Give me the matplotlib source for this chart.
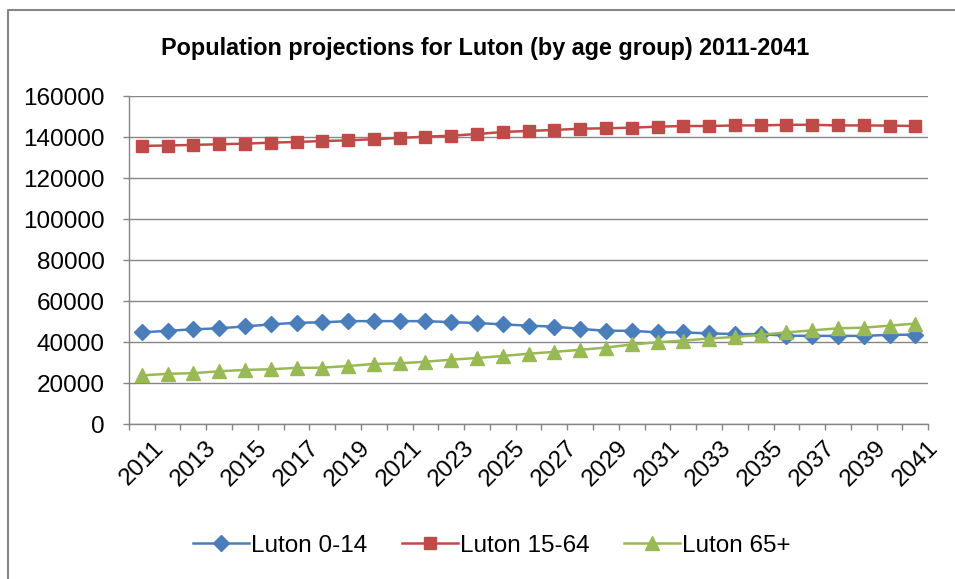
import numpy as np
import matplotlib.pyplot as plt
from matplotlib.lines import Line2D

plt.rcParams['font.family'] = ['Liberation Sans', 'DejaVu Sans']

# Projection data
years = list(range(2011, 2042))
luton_0_14 = [44700, 45500, 46200, 46700, 47600, 48600, 49400, 49600, 50200, 50200,
              50200, 50200, 49700, 49300, 48600, 48000, 47500, 46400, 45500, 45500,
              44700, 44700, 44200, 43900, 43800, 43100, 43000, 43000, 43000, 43500,
              43600]
luton_15_64 = [135700, 135900, 136200, 136500, 136800, 137300, 137600, 138100, 138400, 139000,
               139600, 140200, 140700, 141500, 142500, 143000, 143500, 144100, 144300, 144600,
               145100, 145400, 145400, 145700, 145700, 146000, 146000, 145700, 145700, 145600,
               145400]
luton_65 = [23700, 24500, 24800, 25700, 26400, 26700, 27400, 27500, 28300, 29300,
            29600, 30400, 31400, 32200, 33200, 34300, 35200, 36200, 37300, 38800,
            39900, 40700, 41700, 42500, 43500, 44700, 45700, 46700, 47000, 48000,
            49000]
series_names = ['Luton 0-14', 'Luton 15-64', 'Luton 65+']

grey = '#868686'

fig = plt.figure(figsize=(9.55, 5.79), dpi=100)
ax = fig.add_axes([0.135, 0.2677, 0.837, 0.5663])

x = np.arange(len(years))
ax.plot(x, luton_0_14, color='#4A7EBB', lw=1.8, marker='D', ms=8.5,
        label=series_names[0])
ax.plot(x, luton_15_64, color='#BE4B48', lw=1.8, marker='s', ms=8.5,
        label=series_names[1])
ax.plot(x, luton_65, color='#98B954', lw=1.8, marker='^', ms=10,
        label=series_names[2])

ax.set_ylim(0, 160000)
ax.set_yticks(np.arange(0, 160001, 20000))
ax.yaxis.grid(True, color=grey, lw=1.0)
ax.set_axisbelow(True)

ax.set_xlim(-0.5, len(years) - 0.5)
ax.set_xticks(x[::2])
ax.set_xticklabels([str(y) for y in years[::2]], rotation=45, ha='center')
ax.set_xticks(np.arange(-0.5, len(years)), minor=True)

ax.tick_params(axis='y', length=4.3, width=1.0, color=grey, pad=13, labelsize=17.5)
ax.tick_params(axis='x', which='major', length=0, pad=9, labelsize=17.5)
ax.tick_params(axis='x', which='minor', length=4.3, width=1.0, color=grey)

for side in ['top', 'right']:
    ax.spines[side].set_visible(False)
for side in ['left', 'bottom']:
    ax.spines[side].set_color(grey)
    ax.spines[side].set_linewidth(1.0)

fig.text(0.508, 0.917, 'Population projections for Luton (by age group) 2011-2041',
         ha='center', va='center', fontsize=16.8, fontweight='bold')

fig.legend(loc='center', bbox_to_anchor=(0.515, 0.057), ncol=3, frameon=False,
           fontsize=17.5, handlelength=2.3, handletextpad=0.1, columnspacing=1.4)

# chart area border (only left and top edges visible in the crop)
fig.add_artist(Line2D([8 / 955, 8 / 955, 1.0], [0.0, 1 - 10 / 579, 1 - 10 / 579],
                      transform=fig.transFigure, color=grey, lw=1.5))

fig.savefig('out.png', dpi=100)
